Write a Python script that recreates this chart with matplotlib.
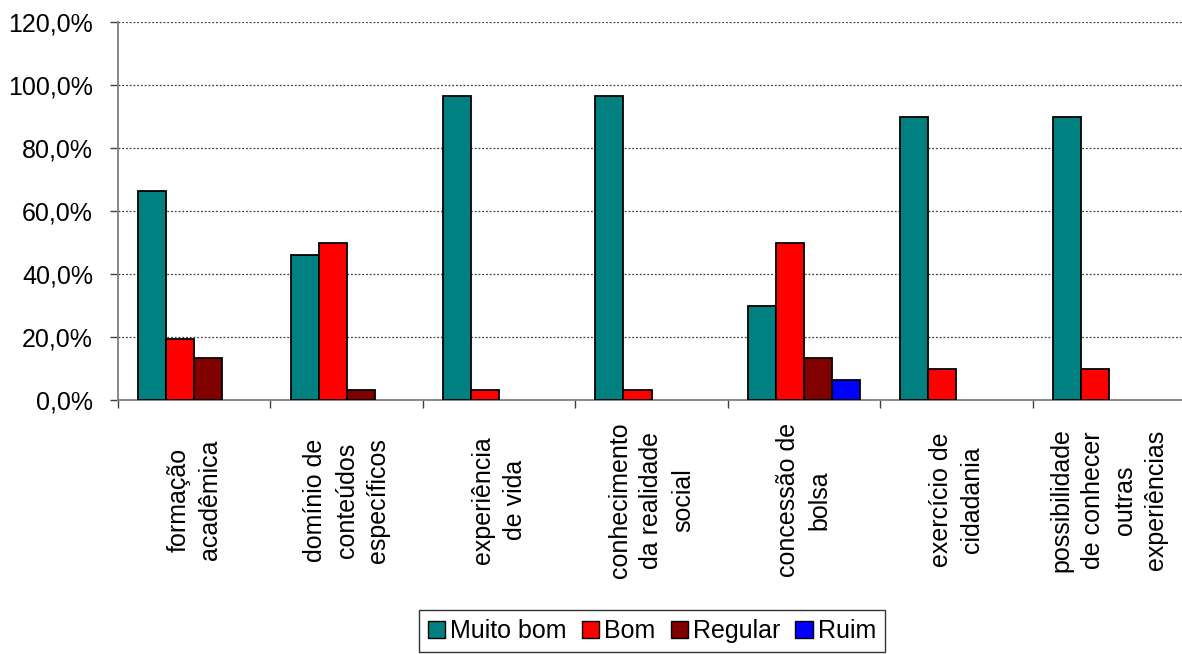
import numpy as np
import matplotlib
matplotlib.use("Agg")
import matplotlib.pyplot as plt
from matplotlib.ticker import FuncFormatter, FixedLocator
from matplotlib.patches import Patch

plt.rcParams["font.family"] = ["Liberation Sans", "DejaVu Sans"]

# Categories and the share of answers for each rating (%)
categorias = [
    "formação\nacadêmica",
    "domínio de\nconteúdos\nespecíficos",
    "experiência\nde vida",
    "conhecimento\nda realidade\nsocial",
    "concessão de\nbolsa",
    "exercício de\ncidadania",
    "possibilidade\nde conhecer\noutras\nexperiências",
]
muito_bom = [66.3, 46.0, 96.5, 96.5, 29.7, 90.0, 90.0]
bom = [19.5, 49.8, 3.3, 3.3, 49.8, 10.0, 10.0]
regular = [13.2, 3.2, 0.0, 0.0, 13.3, 0.0, 0.0]
ruim = [0.0, 0.0, 0.0, 0.0, 6.3, 0.0, 0.0]

series = ["Muito bom", "Bom", "Regular", "Ruim"]
cores = ["#008080", "#FF0000", "#800000", "#0000FF"]

fig = plt.figure(figsize=(11.82, 6.54), dpi=100)
ax = fig.add_axes([118 / 1182, 1 - 400 / 654, 1067 / 1182, 378 / 654])

x = np.arange(len(categorias))
largura = 0.184
for i, (vals, cor) in enumerate(zip([muito_bom, bom, regular, ruim], cores)):
    vals = np.array(vals)
    m = vals > 0
    ax.bar(x[m] + (i - 1.5) * largura, vals[m], width=largura, color=cor,
           edgecolor="black", linewidth=1.3, zorder=3)

ax.set_xlim(-0.5, len(categorias) - 0.5)
ax.set_ylim(0, 120)
ax.set_yticks(np.arange(0, 121, 20))
ax.yaxis.set_major_formatter(FuncFormatter(lambda v, p: f"{v:.1f}%".replace(".", ",")))
ax.yaxis.grid(True, linestyle=(0, (1.5, 1.5)), color="#404040", linewidth=0.9, zorder=0)

# ticks between the groups, labels drawn separately
ax.xaxis.set_major_locator(FixedLocator(np.arange(-0.5, len(categorias), 1.0)))
ax.set_xticklabels([])
ax.tick_params(axis="both", direction="out", length=6, width=1, color="#404040",
               labelsize=18, pad=12)

for lado in ["top", "right"]:
    ax.spines[lado].set_visible(False)
ax.spines["left"].set_color("#808080")
ax.spines["bottom"].set_color("#808080")
ax.spines["left"].set_linewidth(1.3)
ax.spines["bottom"].set_linewidth(1.3)

for xi, rotulo in zip(x, categorias):
    ax.text(xi, -0.265, rotulo, transform=ax.get_xaxis_transform(), rotation=90,
            ha="center", va="center", multialignment="center", fontsize=18,
            linespacing=1.4)

handles = [Patch(facecolor=c, edgecolor="black", linewidth=1.0) for c in cores]
leg = fig.legend(handles, series, loc="center", bbox_to_anchor=(652 / 1182, 1 - 631 / 654),
                 ncol=4, fontsize=18, frameon=True, fancybox=False,
                 handlelength=0.7, handleheight=0.7, handletextpad=0.2,
                 columnspacing=0.6, borderpad=0.35, borderaxespad=0)
leg.get_frame().set_edgecolor("black")
leg.get_frame().set_linewidth(1.0)

fig.savefig("out.png", dpi=100)
